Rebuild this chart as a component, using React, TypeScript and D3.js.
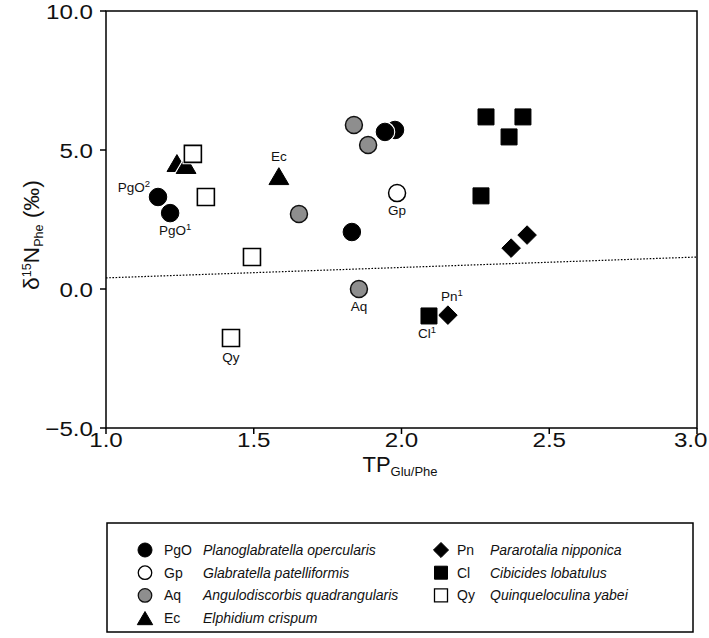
import React from "react";
import * as d3 from "d3";

// ---- data ----
const pgoX = [1.176, 1.217, 1.832, 1.978, 1.944];
const pgoY = [3.31, 2.73, 2.05, 5.72, 5.65];
const gpX = [1.985];
const gpY = [3.45];
const aqX = [1.653, 1.839, 1.887, 1.856];
const aqY = [2.7, 5.9, 5.18, 0.0];
const ecX = [1.24, 1.271, 1.585];
const ecY = [4.53, 4.46, 4.06];
const pnX = [2.371, 2.425, 2.157];
const pnY = [1.47, 1.94, -0.94];
const clX = [2.286, 2.411, 2.364, 2.269, 2.093];
const clY = [6.19, 6.19, 5.47, 3.35, -0.97];
const qyX = [1.294, 1.338, 1.494, 1.423];
const qyY = [4.86, 3.31, 1.15, -1.76];

const lineX = [1.0, 3.0];
const lineY = [0.4, 1.15];

const xTicks = [1.0, 1.5, 2.0, 2.5, 3.0];
const yTicks = [-5.0, 0.0, 5.0, 10.0];

const codes = ["PgO", "Gp", "Aq", "Ec", "Pn", "Cl", "Qy"];
const names = [
  "Planoglabratella opercularis",
  "Glabratella patelliformis",
  "Angulodiscorbis quadrangularis",
  "Elphidium crispum",
  "Pararotalia nipponica",
  "Cibicides lobatulus",
  "Quinqueloculina yabei",
];

// point annotations
const annX = [1.176, 1.217, 1.585, 1.985, 1.856, 1.423, 2.157, 2.093];
const annY = [3.31, 2.73, 4.06, 3.45, 0.0, -1.76, -0.94, -0.97];
const annText = ["PgO", "PgO", "Ec", "Gp", "Aq", "Qy", "Pn", "Cl"];
const annSup = ["2", "1", "", "", "", "", "1", "1"];

const W = 709;
const H = 638;
const M = { left: 106, right: 697, top: 11, bottom: 428 };
const FONT = "'Liberation Sans', Arial, sans-serif";
const GREY = "#8e8e8e";

type Shape = "circle" | "square" | "triangle" | "diamond";

function markerPath(shape: Shape, size: number): string {
  const s = size;
  if (shape === "circle") {
    return d3.arc()({ innerRadius: 0, outerRadius: s / 2, startAngle: 0, endAngle: 2 * Math.PI }) as string;
  }
  if (shape === "square") {
    const h = s / 2;
    return `M${-h},${-h}H${h}V${h}H${-h}Z`;
  }
  if (shape === "triangle") {
    const hw = s * 0.55;
    const hh = s * 0.47;
    return `M0,${-hh}L${hw},${hh}L${-hw},${hh}Z`;
  }
  const h = s * 0.58;
  return `M0,${-h}L${h},0L0,${h}L${-h},0Z`;
}

function Marker({ shape, x, y, size, fill, stroke, sw }: { shape: Shape; x: number; y: number; size: number; fill: string; stroke: string; sw: number }) {
  const p = markerPath(shape, size);
  return (
    <g transform={`translate(${x},${y})`}>
      <path d={p} fill="white" stroke="white" strokeWidth={sw + 2.2} />
      <path d={p} fill={fill} stroke={stroke} strokeWidth={sw} />
    </g>
  );
}

export default function App() {
  const x = d3.scaleLinear().domain([1, 3]).range([M.left, M.right]);
  const y = d3.scaleLinear().domain([-5, 10]).range([M.bottom, M.top]);
  const fmt = d3.format(".1f");
  const STRETCH = 1.15;
  const TICK_FS = 21;

  const series: { xs: number[]; ys: number[]; shape: Shape; fill: string; stroke: string; size: number; sw: number }[] = [
    { xs: pgoX, ys: pgoY, shape: "circle", fill: "#000", stroke: "#000", size: 17.5, sw: 1 },
    { xs: gpX, ys: gpY, shape: "circle", fill: "#fff", stroke: "#000", size: 17, sw: 1.5 },
    { xs: aqX, ys: aqY, shape: "circle", fill: GREY, stroke: "#111", size: 17, sw: 1.5 },
    { xs: ecX, ys: ecY, shape: "triangle", fill: "#000", stroke: "#000", size: 18, sw: 1 },
    { xs: pnX, ys: pnY, shape: "diamond", fill: "#000", stroke: "#000", size: 16, sw: 1 },
    { xs: clX, ys: clY, shape: "square", fill: "#000", stroke: "#000", size: 16, sw: 1 },
    { xs: qyX, ys: qyY, shape: "square", fill: "#fff", stroke: "#000", size: 17, sw: 1.6 },
  ];

  const legendShapes: { shape: Shape; fill: string; stroke: string; size: number; sw: number }[] = [
    { shape: "circle", fill: "#000", stroke: "#000", size: 14, sw: 1 },
    { shape: "circle", fill: "#fff", stroke: "#000", size: 13.5, sw: 1.3 },
    { shape: "circle", fill: GREY, stroke: "#111", size: 13.5, sw: 1.3 },
    { shape: "triangle", fill: "#000", stroke: "#000", size: 14, sw: 1 },
    { shape: "diamond", fill: "#000", stroke: "#000", size: 13, sw: 1 },
    { shape: "square", fill: "#000", stroke: "#000", size: 13, sw: 1 },
    { shape: "square", fill: "#fff", stroke: "#000", size: 13, sw: 1.3 },
  ];

  const annDx = [-8, 5, 0, 0, 0, 0, 4, -2];
  const annDy = [-5, 22, -15, 22, 22, 24, -14, 22];
  const annAnchor = ["end", "middle", "middle", "middle", "middle", "middle", "middle", "middle"];

  const leg = { x: 107, y: 523, w: 586, h: 109 };
  const rowY = (i: number) => leg.y + 27 + i * 22.7;

  // half width of an x tick label like "3.0" (to keep the last one inside the page)
  const halfLabel = (TICK_FS * 1.39 * STRETCH) / 2;

  return (
    <svg width={W} height={H} style={{ position: "absolute", left: 0, top: 0, background: "#fff" }} fontFamily={FONT}>
      <rect width={W} height={H} fill="#fff" />
      {/* regression line */}
      <path
        d={d3.line<number>().x((d, i) => x(lineX[i])).y((d, i) => y(lineY[i]))(lineY) as string}
        fill="none"
        stroke="#000"
        strokeWidth={1.2}
        strokeDasharray="1.6,1.6"
      />
      {/* frame */}
      <rect x={M.left} y={M.top} width={M.right - M.left} height={M.bottom - M.top} fill="none" stroke="#000" strokeWidth={1.5} />
      {/* y ticks */}
      {yTicks.map((t) => (
        <g key={"y" + t}>
          <line x1={M.left - 6} x2={M.left} y1={y(t)} y2={y(t)} stroke="#000" strokeWidth={1.5} />
          <g transform={`translate(${M.left - 13},${y(t)}) scale(${STRETCH},1)`}>
            <text dy="0.36em" textAnchor="end" fontSize={TICK_FS} fill="#111">
              {t < 0 ? "\u2212" + fmt(-t) : fmt(t)}
            </text>
          </g>
        </g>
      ))}
      {/* x ticks */}
      {xTicks.map((t) => (
        <g key={"x" + t}>
          <line x1={x(t)} x2={x(t)} y1={M.bottom} y2={M.bottom + 6} stroke="#000" strokeWidth={1.5} />
          <g transform={`translate(${Math.min(x(t), W - 1.5 - halfLabel)},${M.bottom + 4}) scale(${STRETCH},1)`}>
            <text dy="0.71em" textAnchor="middle" fontSize={TICK_FS} fill="#111">
              {fmt(t)}
            </text>
          </g>
        </g>
      ))}
      {/* axis titles */}
      <text x={400} y={472} textAnchor="middle" fill="#111">
        <tspan fontSize={22}>TP</tspan>
        <tspan fontSize={13} dy={4}>Glu/Phe</tspan>
      </text>
      <g transform={`translate(39,290) rotate(-90) scale(1.04,1)`}>
        <text textAnchor="start" fill="#111">
          <tspan fontSize={22}>δ</tspan>
          <tspan fontSize={12} dy={-8}>15</tspan>
          <tspan fontSize={22} dy={8}>N</tspan>
          <tspan fontSize={12} dy={4}>Phe</tspan>
          <tspan fontSize={22} dy={-4}> (‰)</tspan>
        </text>
      </g>
      {/* markers */}
      {series.map((s, si) =>
        s.xs.map((xv, i) => (
          <Marker key={si + "-" + i} shape={s.shape} x={x(xv)} y={y(s.ys[i])} size={s.size} fill={s.fill} stroke={s.stroke} sw={s.sw} />
        ))
      )}
      {/* annotations */}
      {annText.map((t, i) => (
        <text
          key={"a" + i}
          x={x(annX[i]) + annDx[i]}
          y={y(annY[i]) + annDy[i]}
          textAnchor={annAnchor[i] as any}
          fontSize={13.5}
          fill="#111"
        >
          {t}
          {annSup[i] ? (
            <tspan fontSize={9.5} dy={-5}>
              {annSup[i]}
            </tspan>
          ) : null}
        </text>
      ))}
      {/* legend */}
      <rect x={leg.x} y={leg.y} width={leg.w} height={leg.h} fill="#fff" stroke="#000" strokeWidth={1.5} />
      {codes.map((c, i) => {
        const col = i < 4 ? 0 : 1;
        const row = i < 4 ? i : i - 4;
        const mx = col === 0 ? 145 : 441;
        const cx = col === 0 ? 164 : 457;
        const nx = col === 0 ? 203 : 490;
        const ls = legendShapes[i];
        const yy = rowY(row);
        return (
          <g key={"l" + c}>
            <Marker shape={ls.shape} x={mx} y={yy} size={ls.size} fill={ls.fill} stroke={ls.stroke} sw={ls.sw} />
            <text x={cx} y={yy} dy="0.36em" fontSize={14} fill="#111">
              {c}
            </text>
            <text x={nx} y={yy} dy="0.36em" fontSize={14} fontStyle="italic" fill="#111">
              {names[i]}
            </text>
          </g>
        );
      })}
    </svg>
  );
}
